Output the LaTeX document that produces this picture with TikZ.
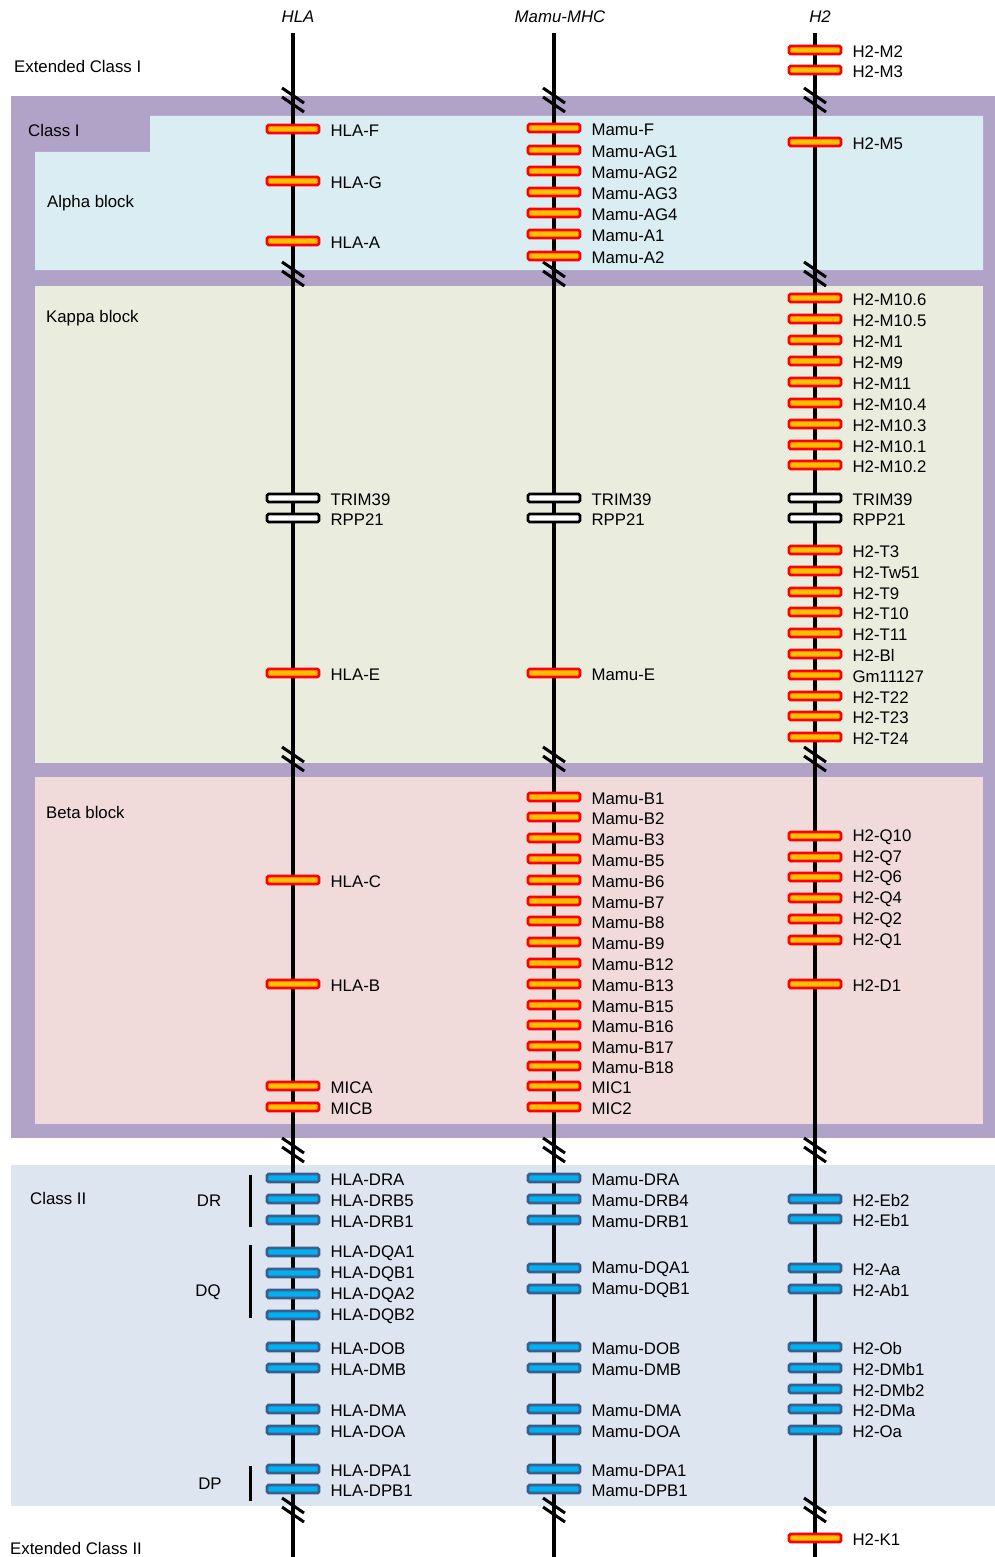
\documentclass[tikz,border=0pt]{standalone}
\usepackage{fontspec}
\setmainfont{Liberation Sans}
\usepackage{tikz}
\usetikzlibrary{positioning}
\tikzset{every picture/.append style={font=\fontsize{16.8}{19}\selectfont}}
\definecolor{genered}{HTML}{FF0000}
\definecolor{geneyellow}{HTML}{FFC000}
\definecolor{geneframe}{HTML}{3B5E8C}
\definecolor{genecyan}{HTML}{00B0F0}
\definecolor{classpurple}{HTML}{B1A2C8}
\definecolor{alphablue}{HTML}{DAEDF3}
\definecolor{kappagreen}{HTML}{EAEDDE}
\definecolor{betapink}{HTML}{F0DADA}
\definecolor{classtwoblue}{HTML}{DCE5F0}

\begin{document}
\begin{tikzpicture}[x=1pt,y=-1pt,
    gene/.style={line width=2.8pt,rounded corners=1.5pt,minimum width=52pt,minimum height=8pt,inner sep=0pt},
    classone/.style={gene,draw=genered,fill=geneyellow},
    classtwo/.style={gene,draw=geneframe,fill=genecyan},
    othergene/.style={gene,draw=black,fill=white},
    genelabel/.style={anchor=west,inner sep=0pt,yshift=-1.5pt},
    blocklabel/.style={anchor=west,inner sep=0pt},
    chromosome/.style={line width=4.8pt},
    breakmark/.style={line width=3pt},
    bracketline/.style={line width=3pt}]
    \useasboundingbox (0,0) rectangle (995,1557);
    % regions
    \fill[classpurple] (11,96) rectangle (995,1138);
    \fill[alphablue] (150,116) -- (983,116) -- (983,270) -- (35,270) -- (35,152) -- (150,152) -- cycle;
    \fill[kappagreen] (35,286) rectangle (983,763);
    \fill[betapink] (35,777) rectangle (983,1124);
    \fill[classtwoblue] (11,1165) rectangle (995,1506);
    % chromosomes
    \foreach \xx/\col in {293/hla,554/mamu,815/htwo} {
      \coordinate (\col top) at (\xx,33);
      \coordinate (\col bot) at (\xx,1557);
      \draw[chromosome] (\col top) -- (\col bot);
      \foreach \yy in {100,274,759,1150,1510} {
        \draw[breakmark] (\xx-11,\yy-12) -- (\xx+11,\yy+3);
        \draw[breakmark] (\xx-11,\yy-3) -- (\xx+11,\yy+12);}
    }
    \node[font=\fontsize{16.8}{19}\selectfont\itshape] (hlahead) at (298,17) {HLA};
    \node[font=\fontsize{16.8}{19}\selectfont\itshape] (mamuhead) at (560,17) {Mamu-MHC};
    \node[font=\fontsize{16.8}{19}\selectfont\itshape] (htwohead) at (820,17) {H2};
    % HLA
    \foreach \yy/\txt [count=\i] in {129/HLA-F,181/HLA-G,241/HLA-A,673/HLA-E,880/HLA-C,984/HLA-B,1086/MICA,1107/MICB}
      {\node[classone] (hlaone\i) at (293,\yy) {};
       \node[genelabel,right=10pt of hlaone\i] (hlaonelab\i) {\txt};}
    \foreach \yy/\txt [count=\i] in {1178/HLA-DRA,1199/HLA-DRB5,1220/HLA-DRB1,1252/HLA-DQA1,1273/HLA-DQB1,1294/HLA-DQA2,
      1315/HLA-DQB2,1347/HLA-DOB,1368/HLA-DMB,1409/HLA-DMA,1430/HLA-DOA,1469/HLA-DPA1,1489/HLA-DPB1}
      {\node[classtwo] (hlatwo\i) at (293,\yy) {};
       \node[genelabel,right=10pt of hlatwo\i] (hlatwolab\i) {\txt};}
    % Mamu-MHC
    \foreach \yy/\txt [count=\i] in {128/Mamu-F,150/Mamu-AG1,171/Mamu-AG2,192/Mamu-AG3,213/Mamu-AG4,234/Mamu-A1,256/Mamu-A2,
      673/Mamu-E,797/Mamu-B1,817/Mamu-B2,838/Mamu-B3,859/Mamu-B5,880/Mamu-B6,901/Mamu-B7,921/Mamu-B8,942/Mamu-B9,
      963/Mamu-B12,984/Mamu-B13,1005/Mamu-B15,1025/Mamu-B16,1046/Mamu-B17,1066/Mamu-B18,1086/MIC1,1107/MIC2}
      {\node[classone] (mamuone\i) at (554,\yy) {};
       \node[genelabel,right=10pt of mamuone\i] (mamuonelab\i) {\txt};}
    \foreach \yy/\txt [count=\i] in {1178/Mamu-DRA,1199/Mamu-DRB4,1220/Mamu-DRB1,1268/Mamu-DQA1,1289/Mamu-DQB1,
      1347/Mamu-DOB,1368/Mamu-DMB,1409/Mamu-DMA,1430/Mamu-DOA,1469/Mamu-DPA1,1489/Mamu-DPB1}
      {\node[classtwo] (mamutwo\i) at (554,\yy) {};
       \node[genelabel,right=10pt of mamutwo\i] (mamutwolab\i) {\txt};}
    % H2
    \foreach \yy/\txt [count=\i] in {50/H2-M2,70/H2-M3,142/H2-M5,298/H2-M10.6,319/H2-M10.5,340/H2-M1,361/H2-M9,382/H2-M11,
      403/H2-M10.4,424/H2-M10.3,445/H2-M10.1,465/H2-M10.2,550/H2-T3,571/H2-Tw51,592/H2-T9,612/H2-T10,633/H2-T11,
      654/H2-Bl,675/Gm11127,696/H2-T22,716/H2-T23,737/H2-T24,836/H2-Q10,857/H2-Q7,877/H2-Q6,898/H2-Q4,919/H2-Q2,
      940/H2-Q1,984/H2-D1,1538/H2-K1}
      {\node[classone] (htwoone\i) at (815,\yy) {};
       \node[genelabel,right=10pt of htwoone\i] (htwoonelab\i) {\txt};}
    \foreach \yy/\txt [count=\i] in {1199/H2-Eb2,1219/H2-Eb1,1268/H2-Aa,1289/H2-Ab1,1347/H2-Ob,1368/H2-DMb1,
      1389/H2-DMb2,1409/H2-DMa,1430/H2-Oa}
      {\node[classtwo] (htwotwo\i) at (815,\yy) {};
       \node[genelabel,right=10pt of htwotwo\i] (htwotwolab\i) {\txt};}
    % shared non-MHC genes
    \foreach \xx/\col in {293/hla,554/mamu,815/htwo}
      \foreach \yy/\txt [count=\i] in {498/TRIM39,518/RPP21}
        {\node[othergene] (\col other\i) at (\xx,\yy) {};
         \node[genelabel,right=10pt of \col other\i] (\col otherlab\i) {\txt};}
    % region labels
    \node[blocklabel] (extone) at (14,66) {Extended Class I};
    \node[blocklabel] (classone) at (28,130) {Class I};
    \node[blocklabel] (alpha) at (47,203) {Alpha block};
    \node[blocklabel] (kappa) at (46,318) {Kappa block};
    \node[blocklabel] (beta) at (46,812) {Beta block};
    \node[blocklabel] (classtwo) at (30,1198) {Class II};
    \node[blocklabel] (exttwo) at (10,1548) {Extended Class II};
    \node (dr) at (209,1201) {DR};
    \node (dq) at (208,1292) {DQ};
    \node (dp) at (210,1484) {DP};
    \draw[bracketline] (250,1175) -- (250,1227);
    \draw[bracketline] (250,1245) -- (250,1318);
    \draw[bracketline] (250,1466) -- (250,1501);
  \end{tikzpicture}
\end{document}
